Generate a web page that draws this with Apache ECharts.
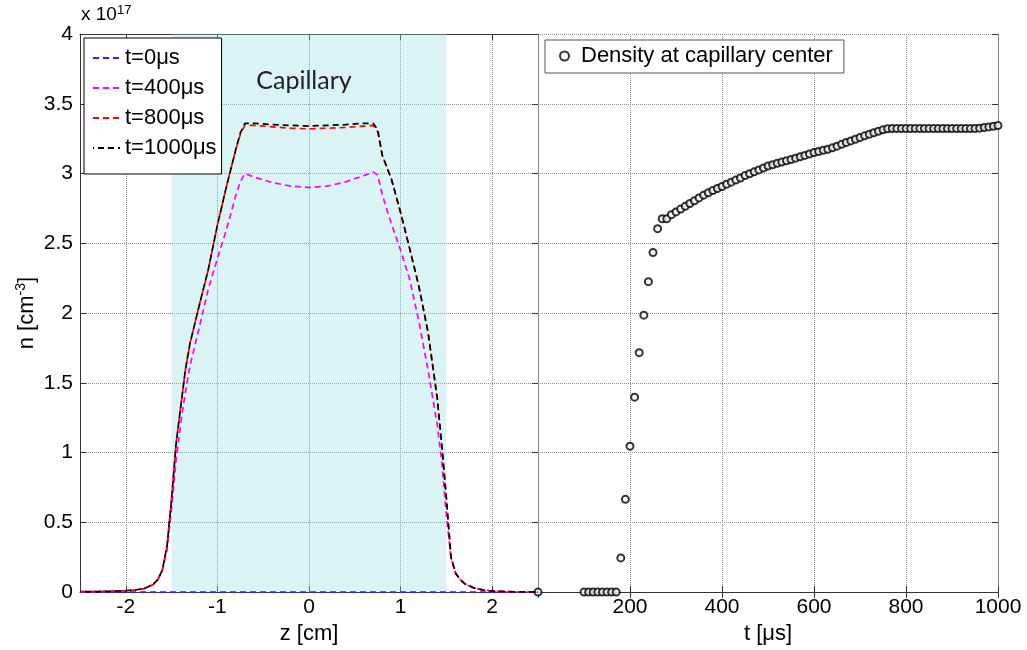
<!DOCTYPE html>
<html lang="en">
<head>
    <meta charset="UTF-8">
    <title>Capillary density</title>
    <script src="https://cdn.jsdelivr.net/npm/echarts@6/dist/echarts.min.js"></script>
    <style>
        html, body { margin: 0; padding: 0; background: #fff; }
        #main { width: 1027px; height: 650px; }
    </style>
</head>
<body>
<div id="main"></div>
<script>
    // z positions (cm) shared by the density profiles
    var zGrid = [-2.5, -2.2, -2.0, -1.9, -1.8, -1.7, -1.65, -1.6, -1.55, -1.5, -1.45, -1.4, -1.35, -1.3, -1.2, -1.1, -1.0, -0.9, -0.8, -0.75, -0.7, -0.6, -0.4, -0.2,
        0, 0.2, 0.4, 0.6, 0.7, 0.75, 0.8, 0.85, 0.9, 1.0, 1.1, 1.2, 1.3, 1.4, 1.45, 1.5, 1.55, 1.6, 1.65, 1.7, 1.8, 1.9, 2.0, 2.2, 2.5];
    // density profiles, units of 1e17 cm^-3
    var n0 = [0, 0, 0, 0, 0, 0, 0, 0, 0, 0, 0, 0, 0, 0, 0, 0, 0, 0, 0, 0, 0, 0, 0, 0,
        0, 0, 0, 0, 0, 0, 0, 0, 0, 0, 0, 0, 0, 0, 0, 0, 0, 0, 0, 0, 0, 0, 0, 0, 0];
    var n400 = [0.003, 0.005, 0.01, 0.015, 0.025, 0.055, 0.09, 0.16, 0.30, 0.60, 0.95, 1.21, 1.43, 1.62, 1.89, 2.17, 2.39, 2.60, 2.84, 2.94, 3.0, 2.975, 2.935, 2.91,
        2.90, 2.91, 2.94, 2.985, 3.01, 2.99, 2.85, 2.74, 2.64, 2.45, 2.24, 1.94, 1.59, 1.20, 0.93, 0.55, 0.245, 0.135, 0.09, 0.06, 0.03, 0.015, 0.007, 0.003, 0];
    var n800 = [0.003, 0.005, 0.01, 0.015, 0.025, 0.055, 0.09, 0.16, 0.33, 0.67, 1.07, 1.33, 1.59, 1.78, 2.05, 2.31, 2.63, 2.91, 3.17, 3.28, 3.345, 3.345, 3.335, 3.325,
        3.32, 3.325, 3.33, 3.34, 3.345, 3.30, 3.13, 3.045, 2.96, 2.72, 2.46, 2.19, 1.86, 1.39, 1.05, 0.67, 0.25, 0.135, 0.09, 0.06, 0.03, 0.015, 0.007, 0.003, 0];
    var n1000 = [0.003, 0.005, 0.01, 0.015, 0.025, 0.055, 0.09, 0.16, 0.33, 0.67, 1.07, 1.33, 1.59, 1.78, 2.05, 2.31, 2.63, 2.91, 3.17, 3.29, 3.36, 3.36, 3.35, 3.345,
        3.34, 3.345, 3.35, 3.36, 3.36, 3.315, 3.13, 3.045, 2.96, 2.72, 2.46, 2.19, 1.86, 1.39, 1.05, 0.67, 0.25, 0.135, 0.09, 0.06, 0.03, 0.015, 0.007, 0.003, 0];

    // density at capillary centre vs time (us)
    var tTimes = [0, 100, 110, 120, 130, 140, 150, 160, 170, 180, 190, 200, 210, 220, 230, 240, 250, 260, 270, 280, 290,
        300, 310, 320, 330, 340, 350, 360, 370, 380, 390, 400, 410, 420, 430, 440, 450, 460, 470, 480, 490,
        500, 510, 520, 530, 540, 550, 560, 570, 580, 590, 600, 610, 620, 630, 640, 650, 660, 670, 680, 690,
        700, 710, 720, 730, 740, 750, 760, 770, 780, 790, 800, 810, 820, 830, 840, 850, 860, 870, 880, 890,
        900, 910, 920, 930, 940, 950, 960, 970, 980, 990, 1000];
    var nCenter = [0, 0, 0, 0, 0, 0, 0, 0, 0, 0.245, 0.665, 1.046, 1.397, 1.716, 1.985, 2.225, 2.434, 2.605, 2.676, 2.676, 2.705,
        2.725, 2.745, 2.765, 2.785, 2.805, 2.825, 2.845, 2.862, 2.878, 2.893, 2.907, 2.923, 2.938, 2.953, 2.968, 2.985, 2.998, 3.012, 3.026, 3.040,
        3.054, 3.063, 3.073, 3.082, 3.091, 3.100, 3.110, 3.120, 3.130, 3.140, 3.150, 3.158, 3.166, 3.174, 3.184, 3.196, 3.209, 3.222, 3.234, 3.246,
        3.258, 3.270, 3.281, 3.292, 3.303, 3.313, 3.321, 3.322, 3.322, 3.322, 3.322, 3.322, 3.322, 3.322, 3.322, 3.322, 3.322, 3.322, 3.322, 3.322,
        3.322, 3.322, 3.322, 3.322, 3.322, 3.323, 3.325, 3.330, 3.334, 3.338, 3.344];

    var zTicks = [-2, -1, 0, 1, 2];
    var capillary = [-1.5, 1.5];

    function pairs(xs, ys) {
        var out = [];
        for (var i = 0; i < xs.length; i++) {
            out.push([xs[i], ys[i]]);
        }
        return out;
    }

    var font = 'Liberation Sans, Arial, sans-serif';
    var gridLine = {show: true, lineStyle: {color: '#8c8c8c', type: 'dotted', width: 1}};
    var tickIn = {show: true, inside: true, length: 6, lineStyle: {color: '#333'}};
    var blackLine = {show: true, onZero: false, lineStyle: {color: '#333'}};
    var grayLine = {show: true, onZero: false, lineStyle: {color: '#888'}};

    function dashed(name, color, data, offset) {
        return {
            name: name,
            type: 'line',
            xAxisIndex: 0,
            yAxisIndex: 0,
            data: data,
            symbol: 'none',
            showSymbol: false,
            smooth: false,
            animation: false,
            lineStyle: {color: color, width: 1.7, type: [6, 4], dashOffset: offset || 0},
            itemStyle: {color: color}
        };
    }

    var blue = dashed('t=0\u03bcs', '#2424ff', pairs(zGrid, n0));
    blue.markArea = {
        silent: true,
        itemStyle: {color: 'rgba(150, 224, 230, 0.35)'},
        label: {
            show: true,
            position: 'insideTop',
            distance: 34,
            offset: [-5, 0],
            formatter: 'Capillary',
            fontFamily: 'Lato, Open Sans, sans-serif',
            fontSize: 25,
            color: '#222'
        },
        data: [[{xAxis: capillary[0]}, {xAxis: capillary[1]}]]
    };

    var option = {
        animation: false,
        backgroundColor: '#fff',
        textStyle: {fontFamily: font},
        grid: [
            {left: 80, top: 34, width: 458, height: 561},
            {left: 538, top: 34, width: 460, height: 561}
        ],
        legend: [
            {
                data: ['t=0\u03bcs', 't=400\u03bcs', 't=800\u03bcs', 't=1000\u03bcs'],
                orient: 'vertical',
                left: 84,
                top: 38,
                itemWidth: 27,
                itemHeight: 12,
                itemGap: 8,
                padding: [9, 5, 15, 8],
                backgroundColor: '#fff',
                borderColor: '#000',
                borderWidth: 1,
                borderRadius: 0,
                itemStyle: {opacity: 0},
                textStyle: {fontSize: 22, color: '#000', fontFamily: font}
            },
            {
                data: ['Density at capillary center'],
                left: 545,
                top: 40,
                itemWidth: 9,
                itemHeight: 9,
                padding: [5, 11, 6, 14],
                backgroundColor: '#fff',
                borderColor: '#555',
                borderWidth: 1,
                borderRadius: 0,
                textStyle: {fontSize: 22, color: '#000', fontFamily: font, padding: [0, 0, 0, 7]}
            }
        ],
        xAxis: [
            {
                gridIndex: 0, type: 'value', position: 'bottom', min: -2.5, max: 2.5,
                name: 'z [cm]', nameLocation: 'middle', nameGap: 27,
                nameTextStyle: {fontSize: 22, color: '#000'},
                axisLine: blackLine,
                axisTick: {show: true, inside: true, length: 6, lineStyle: {color: '#333'}, customValues: zTicks},
                axisLabel: {fontSize: 21, color: '#000', margin: 5, customValues: zTicks},
                splitLine: gridLine
            },
            {
                gridIndex: 0, type: 'value', position: 'top', min: -2.5, max: 2.5,
                axisLine: blackLine,
                axisTick: {show: true, inside: true, length: 6, lineStyle: {color: '#333'}, customValues: zTicks},
                axisLabel: {show: false},
                splitLine: {show: false}
            },
            {
                gridIndex: 1, type: 'value', position: 'bottom', min: 0, max: 1000, interval: 200,
                name: 't [\u03bcs]', nameLocation: 'middle', nameGap: 27,
                nameTextStyle: {fontSize: 22, color: '#000'},
                axisLine: blackLine,
                axisTick: tickIn,
                axisLabel: {
                    fontSize: 21, color: '#000', margin: 5, showMinLabel: false,
                    formatter: function (v) { return String(v); }
                },
                splitLine: gridLine
            },
            {
                gridIndex: 1, type: 'value', position: 'top', min: 0, max: 1000, interval: 200,
                axisLine: {show: false},
                axisTick: tickIn,
                axisLabel: {show: false},
                splitLine: {show: false}
            }
        ],
        yAxis: [
            {
                gridIndex: 0, type: 'value', position: 'left', min: 0, max: 4, interval: 0.5,
                name: 'n [cm{sup|-3}]', nameLocation: 'middle', nameGap: 40, nameRotate: 90,
                nameTextStyle: {
                    fontSize: 22, color: '#000',
                    rich: {sup: {fontSize: 14, color: '#000', padding: [0, 0, 12, 0]}}
                },
                axisLine: blackLine,
                axisTick: tickIn,
                axisLabel: {fontSize: 21, color: '#000', margin: 7},
                splitLine: gridLine
            },
            {
                gridIndex: 0, type: 'value', position: 'right', min: 0, max: 4, interval: 0.5,
                axisLine: grayLine,
                axisTick: tickIn,
                axisLabel: {show: false},
                splitLine: {show: false}
            },
            {
                gridIndex: 1, type: 'value', position: 'left', min: 0, max: 4, interval: 0.5,
                axisLine: {show: false, onZero: false},
                axisTick: {show: false},
                axisLabel: {show: false},
                splitLine: gridLine
            },
            {
                gridIndex: 1, type: 'value', position: 'right', min: 0, max: 4, interval: 0.5,
                axisLine: grayLine,
                axisTick: tickIn,
                axisLabel: {show: false},
                splitLine: {show: false}
            }
        ],
        graphic: [
            {
                type: 'text',
                left: 81,
                top: 4,
                style: {
                    text: '{a|x 10}{b|17}',
                    rich: {
                        a: {fontSize: 19, fontFamily: font, fill: '#000', padding: [8, 0, 0, 0]},
                        b: {fontSize: 13, fontFamily: font, fill: '#000'}
                    }
                }
            }
        ],
        series: [
            blue,
            dashed('t=400\u03bcs', '#ff00ff', pairs(zGrid, n400)),
            dashed('t=800\u03bcs', '#ff0000', pairs(zGrid, n800)),
            dashed('t=1000\u03bcs', '#000000', pairs(zGrid, n1000), 5),
            {
                name: 'Density at capillary center',
                type: 'scatter',
                xAxisIndex: 2,
                yAxisIndex: 2,
                data: pairs(tTimes, nCenter),
                symbol: 'emptyCircle',
                symbolSize: 7,
                clip: false,
                itemStyle: {color: '#000', borderColor: '#000', borderWidth: 1.2}
            }
        ]
    };

    echarts.init(document.getElementById('main')).setOption(option);
</script>
</body>
</html>
